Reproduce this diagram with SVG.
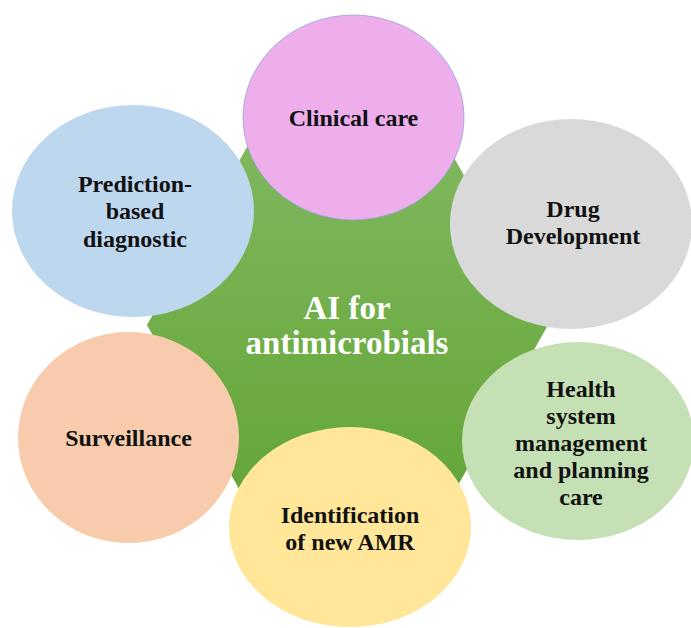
<svg xmlns="http://www.w3.org/2000/svg" width="691" height="628" viewBox="0 0 691 628">
  <defs>
    <linearGradient id="hubFill" x1="0" y1="0" x2="0" y2="1">
      <stop offset="0" stop-color="#7fb75d"/>
      <stop offset="1" stop-color="#63a637"/>
    </linearGradient>
  </defs>
  <style>
    .lbl { font-family: "Liberation Serif", "Times New Roman", serif; font-weight: bold; font-size: 24px; fill: #111111; text-anchor: middle; }
    .hub { font-family: "Liberation Serif", "Times New Roman", serif; font-weight: bold; font-size: 33px; fill: #ffffff; text-anchor: middle; }
  </style>
  <rect width="691" height="628" fill="#ffffff"/>

  <!-- central hexagon -->
  <g id="hub">
    <polygon points="247,147 448,147 548,325 448,503 247,503 147,325" fill="url(#hubFill)"/>
    <text class="hub" x="347" y="319">AI for</text>
    <text class="hub" x="347" y="354">antimicrobials</text>
  </g>

  <!-- no connectors: the satellites touch the hub directly -->
  <g id="connectors"/>

  <g id="prediction">
    <ellipse cx="133" cy="211" rx="121" ry="106" fill="#bdd7ee"/>
    <text class="lbl" x="135" y="192">Prediction-</text>
    <text class="lbl" x="135" y="219">based</text>
    <text class="lbl" x="135" y="247">diagnostic</text>
  </g>

  <g id="drug">
    <ellipse cx="571" cy="224" rx="121" ry="105" fill="#d9d9d9"/>
    <text class="lbl" x="573" y="217">Drug</text>
    <text class="lbl" x="573" y="244">Development</text>
  </g>

  <g id="health">
    <ellipse cx="578" cy="441" rx="116" ry="99" fill="#c5e0b4"/>
    <text class="lbl" x="581" y="397">Health</text>
    <text class="lbl" x="581" y="424">system</text>
    <text class="lbl" x="581" y="451">management</text>
    <text class="lbl" x="581" y="478">and planning</text>
    <text class="lbl" x="581" y="505">care</text>
  </g>

  <g id="surveillance">
    <ellipse cx="128.5" cy="437.5" rx="110.5" ry="105.5" fill="#f8cbad"/>
    <text class="lbl" x="128.5" y="446">Surveillance</text>
  </g>

  <g id="identification">
    <ellipse cx="350" cy="527" rx="121" ry="100" fill="#ffe699"/>
    <text class="lbl" x="350" y="523">Identification</text>
    <text class="lbl" x="350" y="550">of new AMR</text>
  </g>

  <g id="clinical">
    <ellipse cx="353.5" cy="117.5" rx="110.5" ry="102.5" fill="#edaeeb" stroke="#8fa5dc" stroke-width="0.8"/>
    <text class="lbl" x="353.5" y="126">Clinical care</text>
  </g>
</svg>
